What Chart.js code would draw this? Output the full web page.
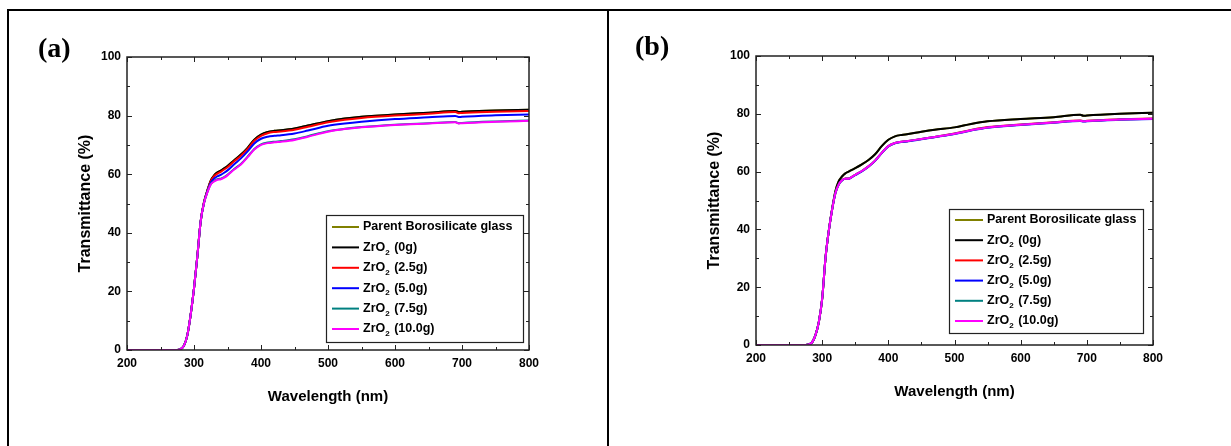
<!DOCTYPE html>
<html>
<head>
<meta charset="utf-8">
<script src="https://cdn.jsdelivr.net/npm/chart.js@4.4.1/dist/chart.umd.min.js"></script>
<style>
  body { margin: 0; background: #fff; width: 1231px; height: 446px; overflow: hidden; position: relative; }
  canvas { position: absolute; top: 0; }
  #chartA { left: 0; }
  #chartB { left: 608px; }
  .tag { position: absolute; font: bold 28px 'Liberation Serif', 'Times New Roman', serif; color: #000; line-height: 1; }
  .rule { position: absolute; background: #000; }
</style>
</head>
<body>
<canvas id="chartA" width="607" height="446"></canvas>
<canvas id="chartB" width="623" height="446"></canvas>
<div class="tag" style="left:38px;top:34px">(a)</div>
<div class="tag" style="left:635px;top:32px">(b)</div>
<div class="rule" style="left:7px;top:9px;width:1224px;height:2px"></div>
<div class="rule" style="left:7px;top:9px;width:2px;height:437px"></div>
<div class="rule" style="left:607px;top:9px;width:2px;height:437px"></div>
<script>
// wavelength (nm)
const wavelength = [200, 250, 275, 280, 285, 290, 295, 300, 305, 310, 315, 320, 325, 330, 335, 340, 345, 350, 360, 370,
                    380, 390, 400, 410, 420, 430, 450, 470, 500, 525, 550, 600, 650, 690, 695, 700, 750, 800];

const seriesLabels = ['Parent Borosilicate glass', 'ZrO₂ (0g)', 'ZrO₂ (2.5g)', 'ZrO₂ (5.0g)', 'ZrO₂ (7.5g)', 'ZrO₂ (10.0g)'];
const seriesColors = ['#808000', '#000000', '#ff0000', '#0000ff', '#008080', '#ff00ff'];

// panel (a) transmittance (%)
const aParent = [0, 0, 0, 0.3, 1.5, 5, 12, 21, 32, 44, 50.5, 54.5, 57.8, 59.6, 60.6, 61.2, 62, 62.8, 64.8, 66.7,
                 69, 71.8, 73.5, 74.4, 74.8, 75, 75.6, 76.6, 78.1, 79, 79.6, 80.4, 81, 81.6, 81.2, 81.3, 81.7, 82];
const a0g    = [0, 0, 0, 0.3, 1.5, 5, 12, 21, 32, 44, 50.5, 54.5, 57.8, 59.6, 60.6, 61.2, 62, 62.8, 64.8, 66.7,
                 69, 71.8, 73.5, 74.4, 74.8, 75, 75.6, 76.6, 78.1, 79, 79.6, 80.4, 81, 81.6, 81.2, 81.3, 81.7, 82];
const a25g   = [0, 0, 0, 0.3, 1.5, 5, 12, 21, 32, 44, 50.5, 54.4, 57.6, 59.3, 60.2, 60.8, 61.6, 62.4, 64.4, 66.3,
                 68.6, 71.4, 73.1, 74, 74.4, 74.6, 75.2, 76.2, 77.7, 78.6, 79.2, 80, 80.6, 81.2, 80.8, 80.9, 81.3, 81.6];
const a50g   = [0, 0, 0, 0.3, 1.5, 5, 12, 21, 32, 44, 50.3, 54.2, 57.1, 58.5, 59.3, 59.8, 60.5, 61.3, 63.4, 65.4,
                 67.8, 70.5, 72.1, 72.8, 73.1, 73.3, 73.9, 74.9, 76.5, 77.3, 77.9, 78.8, 79.4, 79.9, 79.5, 79.6, 80.1, 80.4];
const a75g   = [0, 0, 0, 0.3, 1.5, 5, 12, 21, 32, 44, 50.2, 53.9, 56.6, 57.7, 58.3, 58.5, 59, 59.8, 61.8, 63.5,
                 66, 68.6, 70.2, 70.8, 71.1, 71.3, 71.9, 73, 74.7, 75.5, 76.1, 76.9, 77.4, 77.8, 77.4, 77.5, 78, 78.3];
const a100g  = [0, 0, 0, 0.3, 1.5, 5, 12, 21, 32, 44, 50.2, 53.8, 56.5, 57.5, 58.1, 58.3, 58.8, 59.6, 61.6, 63.3,
                 65.8, 68.4, 70, 70.6, 70.9, 71.1, 71.7, 72.8, 74.5, 75.4, 76, 76.8, 77.3, 77.7, 77.3, 77.4, 77.9, 78.2];

// panel (b) transmittance (%)
const bParent = [0, 0, 0, 0.2, 1, 3.5, 8, 16, 30, 39.5, 47, 53.2, 56.7, 58.3, 59.4, 60, 60.6, 61.2, 62.5, 64,
                 66, 68.8, 71, 72.2, 72.7, 73, 73.8, 74.5, 75.3, 76.5, 77.4, 78.2, 78.8, 79.7, 79.3, 79.4, 80, 80.4];
const b0g    = [0, 0, 0, 0.2, 1, 3.5, 8, 16, 30, 39.5, 47, 53.2, 56.7, 58.3, 59.4, 60, 60.6, 61.2, 62.5, 64,
                 66, 68.8, 71, 72.2, 72.7, 73, 73.8, 74.5, 75.3, 76.5, 77.4, 78.2, 78.8, 79.7, 79.3, 79.4, 80, 80.4];
const b25g   = [0, 0, 0, 0.2, 1, 3.5, 8, 16, 30, 39.5, 46.8, 52.6, 55.6, 57, 57.6, 57.6, 58.2, 58.9, 60.2, 61.8,
                 63.8, 66.5, 68.8, 69.9, 70.3, 70.6, 71.3, 72, 73.2, 74.4, 75.4, 76.3, 77.1, 77.7, 77.5, 77.6, 78.1, 78.4];
const b50g   = [0, 0, 0, 0.2, 1, 3.5, 8, 16, 30, 39.5, 46.8, 52.5, 55.5, 56.9, 57.5, 57.5, 58.1, 58.8, 60.1, 61.7,
                 63.7, 66.4, 68.7, 69.8, 70.2, 70.5, 71.2, 71.9, 73, 74.2, 75.2, 76.1, 76.9, 77.5, 77.3, 77.4, 77.9, 78.2];
const b75g   = [0, 0, 0, 0.2, 1, 3.5, 8, 16, 30, 39.5, 46.8, 52.5, 55.5, 57, 57.5, 57.5, 58.2, 58.9, 60.2, 61.8,
                 63.8, 66.5, 68.8, 69.9, 70.3, 70.6, 71.3, 72, 73.1, 74.3, 75.3, 76.2, 77, 77.6, 77.4, 77.5, 78, 78.3];
const b100g  = [0, 0, 0, 0.2, 1, 3.5, 8, 16, 30, 39.5, 46.8, 52.5, 55.5, 57, 57.5, 57.5, 58.2, 58.9, 60.2, 61.8,
                 63.8, 66.5, 68.8, 69.9, 70.3, 70.6, 71.3, 72, 73.1, 74.3, 75.3, 76.2, 77, 77.6, 77.4, 77.5, 78, 78.3];

const FONT = "'Liberation Sans', Arial, sans-serif";

// inward tick marks on all four sides + frame
const frameTicks = {
  id: 'frameTicks',
  afterDatasetsDraw(chart) {
    const { ctx, chartArea: a, scales: { x, y } } = chart;
    ctx.save();
    ctx.strokeStyle = '#222';
    ctx.lineWidth = 1;
    ctx.beginPath();
    for (let v = x.min; v <= x.max; v += 50) {
      const px = Math.round(x.getPixelForValue(v)) + 0.5;
      const len = v % 100 === 0 ? 5 : 3;
      ctx.moveTo(px, a.bottom); ctx.lineTo(px, a.bottom - len);
      ctx.moveTo(px, a.top); ctx.lineTo(px, a.top + len);
    }
    for (let v = y.min; v <= y.max; v += 10) {
      const py = Math.round(y.getPixelForValue(v)) + 0.5;
      const len = v % 20 === 0 ? 5 : 3;
      ctx.moveTo(a.left, py); ctx.lineTo(a.left + len, py);
      ctx.moveTo(a.right, py); ctx.lineTo(a.right - len, py);
    }
    ctx.stroke();
    ctx.lineWidth = 1.5;
    ctx.strokeRect(a.left, a.top, a.right - a.left, a.bottom - a.top);
    ctx.restore();
  }
};

// boxed legend inside the plot, with subscript 2
const boxLegend = {
  id: 'boxLegend',
  afterDraw(chart, args, opts) {
    const ctx = chart.ctx;
    ctx.save();
    ctx.fillStyle = '#fff';
    ctx.fillRect(opts.left, opts.top, opts.width, opts.height);
    ctx.strokeStyle = '#222';
    ctx.lineWidth = 1.2;
    ctx.strokeRect(opts.left + 0.5, opts.top + 0.5, opts.width, opts.height);
    chart.data.datasets.forEach((ds, i) => {
      const yy = opts.top + opts.firstRow + i * opts.rowGap;
      ctx.strokeStyle = ds.borderColor;
      ctx.lineWidth = 2;
      ctx.beginPath();
      ctx.moveTo(opts.left + 6, yy);
      ctx.lineTo(opts.left + opts.lineLen, yy);
      ctx.stroke();
      ctx.fillStyle = '#000';
      ctx.textBaseline = 'middle';
      let tx = opts.left + opts.textX;
      const parts = ds.label.split('₂');
      ctx.font = 'bold 12.5px ' + FONT;
      ctx.fillText(parts[0], tx, yy);
      tx += ctx.measureText(parts[0]).width;
      if (parts.length > 1) {
        ctx.font = 'bold 8px ' + FONT;
        ctx.fillText('2', tx, yy + 5);
        tx += ctx.measureText('2').width + 1;
        ctx.font = 'bold 12.5px ' + FONT;
        ctx.fillText(parts[1], tx, yy);
      }
    });
    ctx.restore();
  }
};

function makeChart(id, series, lay) {
  const datasets = series.map((vals, i) => ({
    label: seriesLabels[i],
    data: wavelength.map((w, k) => ({ x: w, y: vals[k] })),
    borderColor: seriesColors[i],
    borderWidth: 2,
    pointRadius: 0,
    cubicInterpolationMode: 'monotone',
    order: series.length - i
  }));
  return new Chart(document.getElementById(id), {
    type: 'line',
    data: { datasets },
    options: {
      responsive: false,
      animation: false,
      layout: { padding: { left: 0, top: lay.top, right: lay.right, bottom: 0 } },
      plugins: { legend: { display: false }, tooltip: { enabled: false }, boxLegend: lay.legend },
      scales: {
        x: {
          type: 'linear', min: 200, max: 800,
          grid: { display: false, drawTicks: false },
          border: { display: false },
          ticks: { stepSize: 100, padding: 6, maxRotation: 0, autoSkip: false, color: '#000', font: { family: FONT, size: 12, weight: 'bold' } },
          title: { display: true, text: 'Wavelength (nm)', color: '#000', padding: { top: 0, bottom: lay.xTitlePad }, font: { family: FONT, size: 15, weight: 'bold' } },
          afterFit: (s) => { s.height = lay.xHeight; }
        },
        y: {
          min: 0, max: 100,
          grid: { display: false, drawTicks: false },
          border: { display: false },
          ticks: { stepSize: 20, padding: 6, color: '#000', font: { family: FONT, size: 12, weight: 'bold' } },
          title: { display: true, text: 'Transmittance (%)', color: '#000', padding: { top: lay.yTitlePad, bottom: 0 }, font: { family: FONT, size: 16, weight: 'bold' } },
          afterFit: (s) => { s.width = lay.yWidth; }
        }
      }
    },
    plugins: [frameTicks, boxLegend]
  });
}

makeChart('chartA', [aParent, a0g, a25g, a50g, a75g, a100g], {
  top: 57, right: 78, xHeight: 96, yWidth: 127, xTitlePad: 40, yTitlePad: 76,
  legend: { left: 326, top: 215, width: 197, height: 127, firstRow: 12, rowGap: 20.4, lineLen: 33, textX: 37 }
});

makeChart('chartB', [bParent, b0g, b25g, b50g, b75g, b100g], {
  top: 56, right: 78, xHeight: 101, yWidth: 148, xTitlePad: 45, yTitlePad: 97,
  legend: { left: 341, top: 209, width: 194, height: 124, firstRow: 11, rowGap: 20.2, lineLen: 34, textX: 38 }
});
</script>
</body>
</html>
